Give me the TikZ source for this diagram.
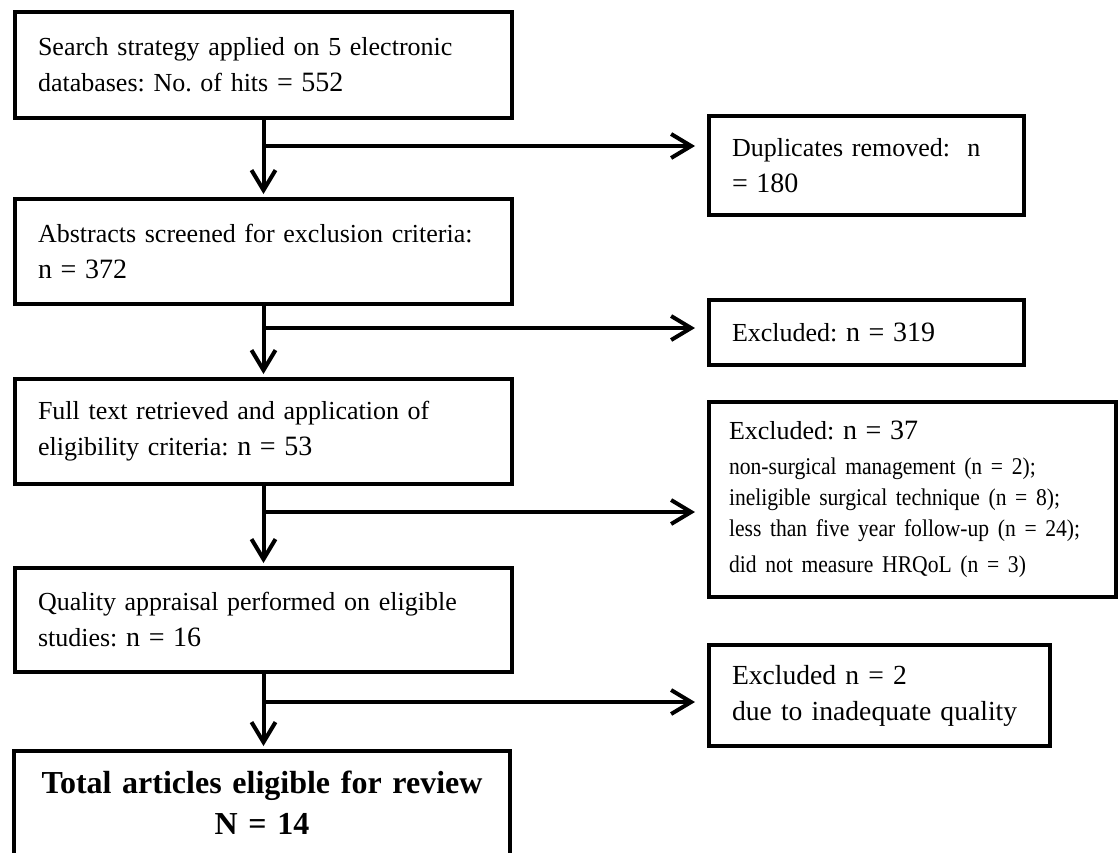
\documentclass[tikz,border=0pt]{standalone}
\usepackage{fontspec}
\setmainfont{Liberation Serif}[WordSpace={1,0,0}]
\newfontfamily\stretta{Liberation Serif}[FakeStretch=0.9, WordSpace={1,0,0}]
\usetikzlibrary{arrows.meta}
\frenchspacing

\tikzset{
    box/.style={draw, line width=2pt, anchor=north west, align=left,
        inner xsep=11.5pt, inner ysep=0pt, font=\fontsize{13}{18}\selectfont},
    freccia/.style={-{Straight Barb[length=10pt, width=12pt]}, line width=2pt},
}

\begin{document}
\begin{tikzpicture}[x=0.5pt, y=-0.5pt]

    \useasboundingbox (0,0) rectangle (1118,852);

    % numeri un po' piu' grandi
    \def\grande#1{{\fontsize{14}{18}\selectfont #1}}

    % -- Colonna sinistra --
    \node[box, text width=225.5pt, minimum height=53pt] (ricerca) at (13,10)
        {Search strategy applied on 5 electronic\\ databases: No. of hits \grande{= 552}};
    \node[box, text width=225.5pt, minimum height=52.5pt] (abstract) at (13,197)
        {Abstracts screened for exclusion criteria:\\ \grande{n = 372}};
    \node[box, text width=225.5pt, minimum height=52.5pt] (fulltext) at (13,377)
        {Full text retrieved and application of\\ eligibility criteria: \grande{n = 53}};
    \node[box, text width=225.5pt, minimum height=52pt] (qualita) at (13,566)
        {Quality appraisal performed on eligible\\ studies: \grande{n = 16}};
    \node[box, align=center, text width=225pt, minimum height=52pt,
        font=\fontsize{16}{20.5}\selectfont\bfseries] (totale) at (12,749)
        {Total articles eligible for review\\ N = 14};

    % -- Colonna destra: esclusi --
    \node[box, text width=134.5pt, minimum height=49.5pt] (duplicati) at (707,114)
        {Duplicates removed:\ \ n\\ \grande{= 180}};
    \node[box, text width=134.5pt, minimum height=32.5pt] (escl1) at (707,298)
        {Excluded: \grande{n = 319}};
    \node[box, text width=183.5pt, inner xsep=10pt, minimum height=97.5pt] (escl2) at (707,400)
        {Excluded: \grande{n = 37}\\[2pt]
         \stretta\fontsize{12}{15.5}\selectfont
         non-surgical management (n = 2);\\
         ineligible surgical technique (n = 8);\\
         less than five year follow-up (n = 24);\\
         did not measure HRQoL (n = 3)};
    \node[box, text width=147.5pt, minimum height=50.5pt,
        font=\fontsize{13.8}{18}\selectfont] (escl3) at (707,643)
        {Excluded n = 2\\ due to inadequate quality};

    % frecce verticali
    \draw[freccia, shorten >=1.5pt] (ricerca.south) -- (abstract.north);
    \draw[freccia, shorten >=1.5pt] (abstract.south) -- (fulltext.north);
    \draw[freccia, shorten >=1.5pt] (fulltext.south) -- (qualita.south |- qualita.north);
    \draw[freccia, shorten >=1.5pt] (qualita.south) -- (qualita.south |- totale.north);

    % diramazioni verso destra
    \coordinate (r1) at ([yshift=-13pt]ricerca.south);
    \coordinate (r2) at ([yshift=-11pt]abstract.south);
    \coordinate (r3) at ([yshift=-13pt]fulltext.south);
    \coordinate (r4) at ([yshift=-14pt]qualita.south);

    \draw[freccia, shorten >=6pt] (r1) -- (r1 -| duplicati.west);
    \draw[freccia, shorten >=6pt] (r2) -- (r2 -| escl1.west);
    \draw[freccia, shorten >=6pt] (r3) -- (r3 -| escl2.west);
    \draw[freccia, shorten >=6pt] (r4) -- (r4 -| escl3.west);
\end{tikzpicture}
\end{document}
